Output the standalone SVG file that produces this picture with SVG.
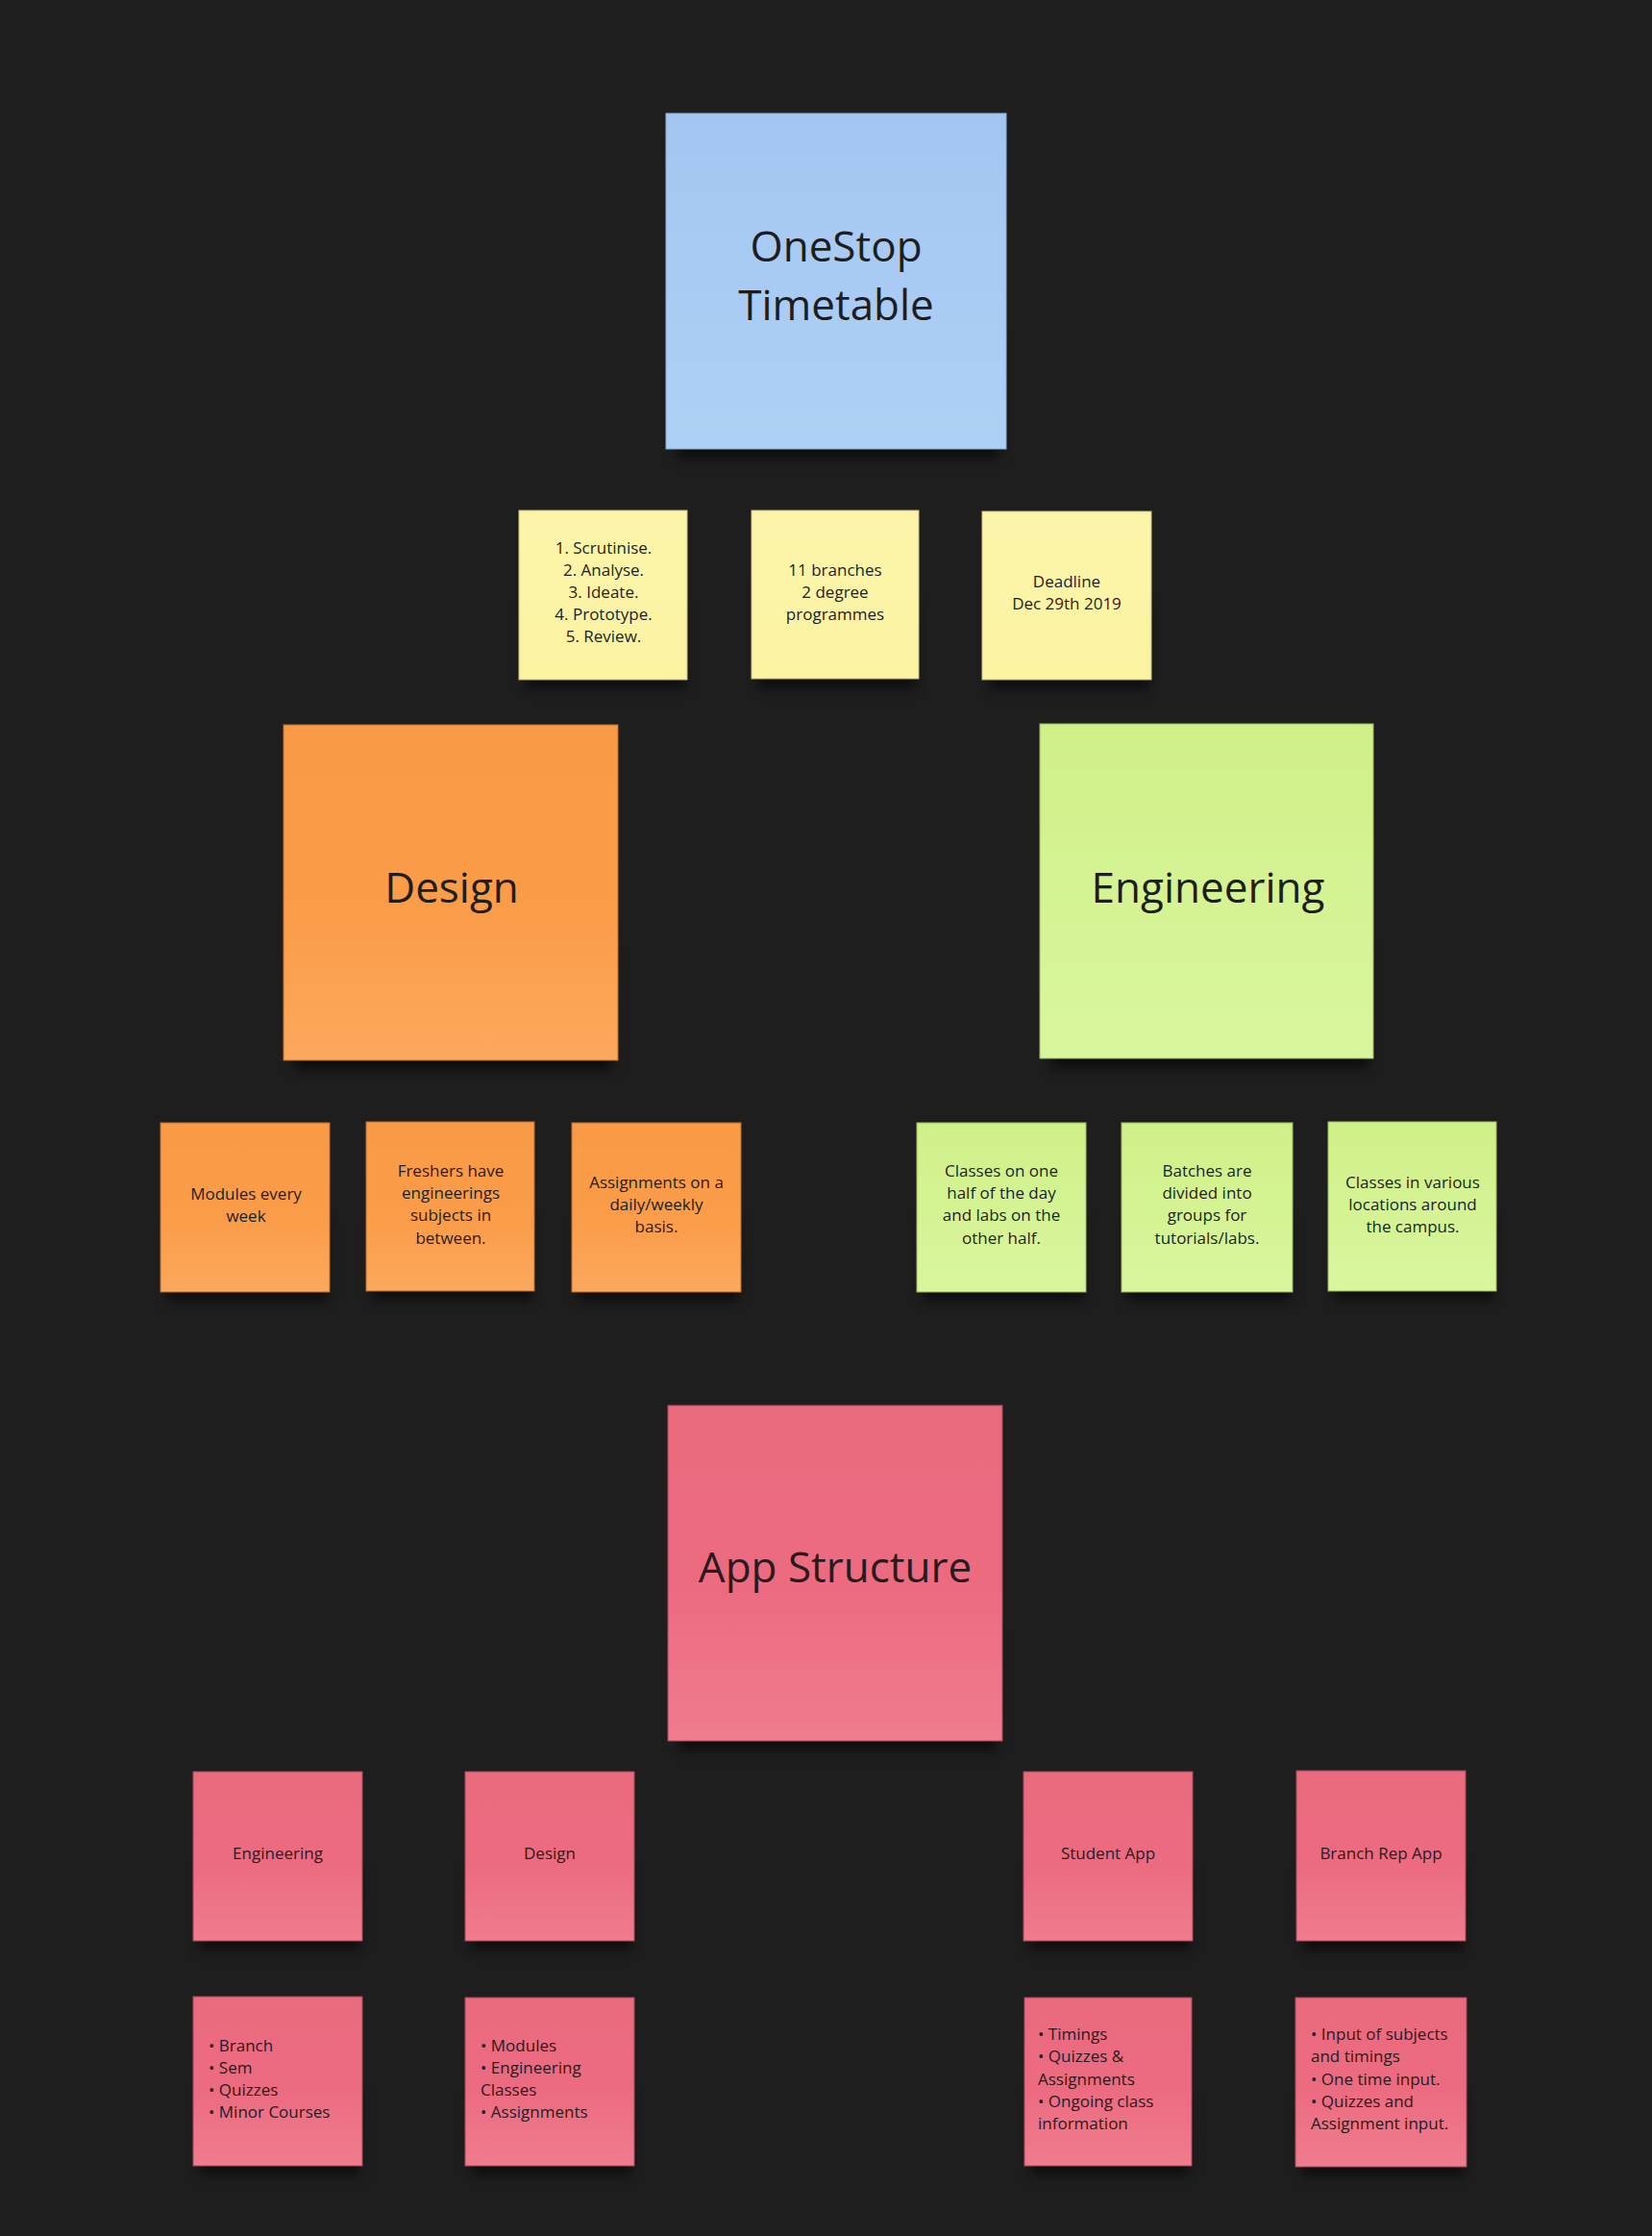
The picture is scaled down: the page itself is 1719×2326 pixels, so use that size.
<svg xmlns="http://www.w3.org/2000/svg" width="1719" height="2326" viewBox="0 0 1719 2326">
<defs>
<linearGradient id="gBlue" x1="0" y1="0" x2="0" y2="1"><stop offset="0" stop-color="#a3c6f1"/><stop offset="1" stop-color="#afd0f5"/></linearGradient>
<linearGradient id="gYellow" x1="0" y1="0" x2="0" y2="1"><stop offset="0" stop-color="#fcf5a9"/><stop offset="1" stop-color="#fbf2a2"/></linearGradient>
<linearGradient id="gOrange" x1="0" y1="0" x2="0" y2="1"><stop offset="0" stop-color="#f99a46"/><stop offset="0.55" stop-color="#fa9c48"/><stop offset="1" stop-color="#fca85d"/></linearGradient>
<linearGradient id="gGreen" x1="0" y1="0" x2="0" y2="1"><stop offset="0" stop-color="#d0f088"/><stop offset="1" stop-color="#d9f69e"/></linearGradient>
<linearGradient id="gPink" x1="0" y1="0" x2="0" y2="1"><stop offset="0" stop-color="#ea6a7e"/><stop offset="0.55" stop-color="#ec6b80"/><stop offset="1" stop-color="#f07c8e"/></linearGradient>
<filter id="sh" x="-20%" y="-20%" width="140%" height="160%"><feGaussianBlur stdDeviation="6"/></filter>
<style>
.bg{fill:#1e1e1e}
.shadow{fill:#000;opacity:0.55;filter:url(#sh)}
.blue{fill:url(#gBlue);stroke:#8fb0d8;stroke-width:1}
.yellow{fill:url(#gYellow);stroke:#c9c27e;stroke-width:1}
.orange{fill:url(#gOrange);stroke:#b86d2e;stroke-width:1}
.green{fill:url(#gGreen);stroke:#9cb865;stroke-width:1}
.pink{fill:url(#gPink);stroke:#a84a59;stroke-width:1}
text{font-family:"Open Sans","Noto Sans","Liberation Sans",sans-serif;fill:#1e1e1e}
.big{font-size:44px;text-anchor:middle}
.sm{font-size:17px;text-anchor:middle}
.lst{font-size:17px;text-anchor:start;fill:#2a1a1e}
.pk{fill:#2a1a1e}
</style>
</defs>
<rect class="bg" x="0" y="0" width="1719" height="2326"/>

<g id="onestop">
<rect class="shadow" x="705" y="352" width="334" height="125"/>
<rect class="blue" x="693" y="118" width="354" height="349"/>
<text class="big"><tspan x="870" y="272">OneStop</tspan><tspan x="870" y="333">Timetable</tspan></text>
</g>

<g id="process">
<rect class="shadow" x="547" y="630" width="165" height="86"/>
<rect class="yellow" x="540" y="531" width="175" height="176"/>
<text class="sm"><tspan x="628" y="576">1. Scrutinise.</tspan><tspan x="628" y="599">2. Analyse.</tspan><tspan x="628" y="622">3. Ideate.</tspan><tspan x="628" y="645">4. Prototype.</tspan><tspan x="628" y="668">5. Review.</tspan></text>
</g>

<g id="branches">
<rect class="shadow" x="789" y="630" width="164" height="86"/>
<rect class="yellow" x="782" y="531" width="174" height="175"/>
<text class="sm"><tspan x="869" y="599">11 branches</tspan><tspan x="869" y="622">2 degree</tspan><tspan x="869" y="645">programmes</tspan></text>
</g>

<g id="deadline">
<rect class="shadow" x="1029" y="631" width="166" height="86"/>
<rect class="yellow" x="1022" y="532" width="176" height="175"/>
<text class="sm"><tspan x="1110" y="611">Deadline</tspan><tspan x="1110" y="634">Dec 29th 2019</tspan></text>
</g>

<g id="design">
<rect class="shadow" x="307" y="990" width="330" height="123"/>
<rect class="orange" x="295" y="754" width="348" height="349"/>
<text class="big" x="470" y="939">Design</text>
</g>

<g id="engineering">
<rect class="shadow" x="1094" y="988" width="330" height="123"/>
<rect class="green" x="1082" y="753" width="347" height="348"/>
<text class="big" x="1257" y="939">Engineering</text>
</g>

<g id="modules">
<rect class="shadow" x="174" y="1268" width="166" height="85"/>
<rect class="orange" x="167" y="1168" width="176" height="176"/>
<text class="sm"><tspan x="256" y="1248">Modules every</tspan><tspan x="256" y="1271">week</tspan></text>
</g>

<g id="freshers">
<rect class="shadow" x="388" y="1267" width="165" height="85"/>
<rect class="orange" x="381" y="1167" width="175" height="176"/>
<text class="sm"><tspan x="469" y="1224">Freshers have</tspan><tspan x="469" y="1247">engineerings</tspan><tspan x="469" y="1270">subjects in</tspan><tspan x="469" y="1294">between.</tspan></text>
</g>

<g id="assignments">
<rect class="shadow" x="602" y="1268" width="166" height="85"/>
<rect class="orange" x="595" y="1168" width="176" height="176"/>
<text class="sm"><tspan x="683" y="1236">Assignments on a</tspan><tspan x="683" y="1259">daily/weekly</tspan><tspan x="683" y="1282">basis.</tspan></text>
</g>

<g id="classes-half">
<rect class="shadow" x="961" y="1268" width="166" height="85"/>
<rect class="green" x="954" y="1168" width="176" height="176"/>
<text class="sm"><tspan x="1042" y="1224">Classes on one</tspan><tspan x="1042" y="1247">half of the day</tspan><tspan x="1042" y="1270">and labs on the</tspan><tspan x="1042" y="1294">other half.</tspan></text>
</g>

<g id="batches">
<rect class="shadow" x="1174" y="1268" width="168" height="85"/>
<rect class="green" x="1167" y="1168" width="178" height="176"/>
<text class="sm"><tspan x="1256" y="1224">Batches are</tspan><tspan x="1256" y="1247">divided into</tspan><tspan x="1256" y="1270">groups for</tspan><tspan x="1256" y="1294">tutorials/labs.</tspan></text>
</g>

<g id="locations">
<rect class="shadow" x="1389" y="1267" width="165" height="85"/>
<rect class="green" x="1382" y="1167" width="175" height="176"/>
<text class="sm"><tspan x="1470" y="1236">Classes in various</tspan><tspan x="1470" y="1259">locations around</tspan><tspan x="1470" y="1282">the campus.</tspan></text>
</g>

<g id="app-structure">
<rect class="shadow" x="707" y="1698" width="330" height="123"/>
<rect class="pink" x="695" y="1462" width="348" height="349"/>
<text class="big pk" x="869" y="1646">App Structure</text>
</g>

<g id="app-engineering">
<rect class="shadow" x="208" y="1943" width="166" height="85"/>
<rect class="pink" x="201" y="1843" width="176" height="176"/>
<text class="sm pk" x="289" y="1934">Engineering</text>
</g>

<g id="app-design">
<rect class="shadow" x="491" y="1943" width="166" height="85"/>
<rect class="pink" x="484" y="1843" width="176" height="176"/>
<text class="sm pk" x="572" y="1934">Design</text>
</g>

<g id="student-app">
<rect class="shadow" x="1072" y="1943" width="166" height="85"/>
<rect class="pink" x="1065" y="1843" width="176" height="176"/>
<text class="sm pk" x="1153" y="1934">Student App</text>
</g>

<g id="branch-rep-app">
<rect class="shadow" x="1356" y="1943" width="166" height="86"/>
<rect class="pink" x="1349" y="1842" width="176" height="177"/>
<text class="sm pk" x="1437" y="1934">Branch Rep App</text>
</g>

<g id="eng-list">
<rect class="shadow" x="208" y="2177" width="166" height="85"/>
<rect class="pink" x="201" y="2077" width="176" height="176"/>
<text class="lst"><tspan x="217" y="2134">• Branch</tspan><tspan x="217" y="2157">• Sem</tspan><tspan x="217" y="2180">• Quizzes</tspan><tspan x="217" y="2203">• Minor Courses</tspan></text>
</g>

<g id="design-list">
<rect class="shadow" x="491" y="2177" width="166" height="85"/>
<rect class="pink" x="484" y="2078" width="176" height="175"/>
<text class="lst"><tspan x="500" y="2134">• Modules</tspan><tspan x="500" y="2157">• Engineering</tspan><tspan x="500" y="2180">Classes</tspan><tspan x="500" y="2203">• Assignments</tspan></text>
</g>

<g id="student-list">
<rect class="shadow" x="1073" y="2177" width="164" height="85"/>
<rect class="pink" x="1066" y="2078" width="174" height="175"/>
<text class="lst"><tspan x="1080" y="2122">• Timings</tspan><tspan x="1080" y="2145">• Quizzes &amp;</tspan><tspan x="1080" y="2169">Assignments</tspan><tspan x="1080" y="2192">• Ongoing class</tspan><tspan x="1080" y="2215">information</tspan></text>
</g>

<g id="rep-list">
<rect class="shadow" x="1355" y="2178" width="168" height="85"/>
<rect class="pink" x="1348" y="2078" width="178" height="176"/>
<text class="lst"><tspan x="1364" y="2122">• Input of subjects</tspan><tspan x="1364" y="2145">and timings</tspan><tspan x="1364" y="2169">• One time input.</tspan><tspan x="1364" y="2192">• Quizzes and</tspan><tspan x="1364" y="2215">Assignment input.</tspan></text>
</g>

<g id="connectors"></g>
</svg>
